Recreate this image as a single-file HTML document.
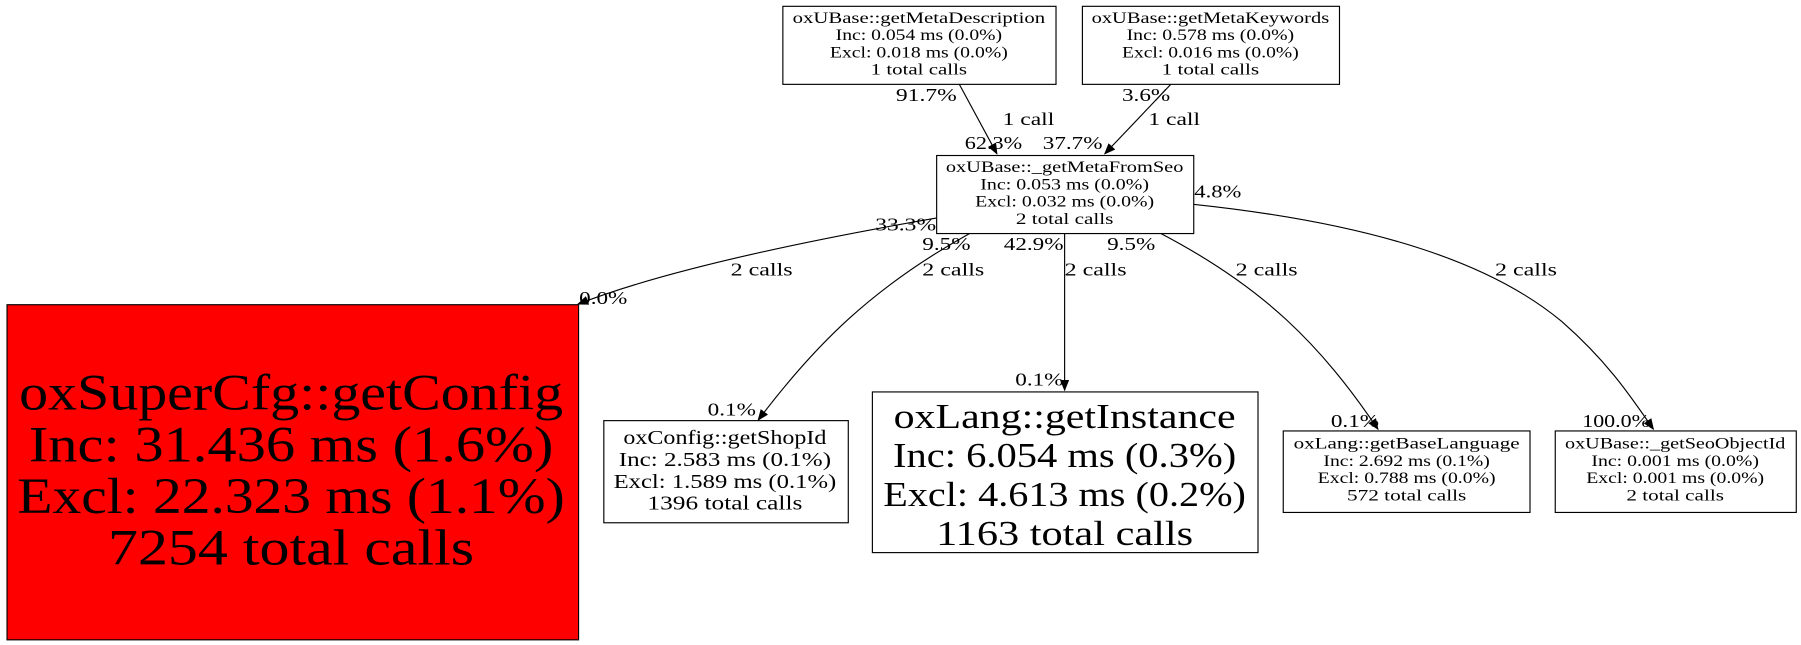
<!DOCTYPE html>
<html><head><meta charset="utf-8"><style>
html,body{margin:0;padding:0;background:#fff;}
svg{display:block;}
text{font-family:"Liberation Serif",serif;fill:#000;}
</style></head><body>
<svg width="1801" height="645" viewBox="0 0 1568 562" xmlns="http://www.w3.org/2000/svg">
<defs><marker id="a" markerWidth="10" markerHeight="8" refX="9" refY="4" orient="auto" markerUnits="userSpaceOnUse"><path d="M0,0 L10,4 L0,8 z" fill="#000"/></marker></defs>
<g fill="none" stroke="#000" stroke-width="1">
<path d="M835,73 L868,134" marker-end="url(#a)"/>
<path d="M1020,73 L962,134" marker-end="url(#a)"/>
<path d="M815,190 C700,210 580,235 503,265" marker-end="url(#a)"/>
<path d="M845,203 C760,250 710,300 660,366" marker-end="url(#a)"/>
<path d="M927,203 L927,340" marker-end="url(#a)"/>
<path d="M1010,203 C1100,250 1150,300 1200,374" marker-end="url(#a)"/>
<path d="M1039,178 C1200,195 1300,230 1360,280 C1400,315 1420,345 1440,374" marker-end="url(#a)"/>
</g>
<g stroke="#000" stroke-width="1" fill="#fff">
<rect x="681.5" y="5.5" width="238" height="68"/>
<rect x="942.5" y="5.5" width="224" height="68"/>
<rect x="815.5" y="135.5" width="224" height="68"/>
<rect x="5.5" y="265.5" width="498" height="292" fill="#ff0000"/>
<rect x="525.5" y="366.5" width="213" height="89"/>
<rect x="759.5" y="341.5" width="336" height="140"/>
<rect x="1117.5" y="375.5" width="215" height="71"/>
<rect x="1354.5" y="375.5" width="210" height="71"/>
</g>
<g font-size="14" text-anchor="middle" lengthAdjust="spacingAndGlyphs">
<text x="800" y="20" textLength="220" lengthAdjust="spacingAndGlyphs">oxUBase::getMetaDescription</text>
<text x="800" y="35" textLength="145" lengthAdjust="spacingAndGlyphs">Inc: 0.054 ms (0.0%)</text>
<text x="800" y="50" textLength="155" lengthAdjust="spacingAndGlyphs">Excl: 0.018 ms (0.0%)</text>
<text x="800" y="65" textLength="84" lengthAdjust="spacingAndGlyphs">1 total calls</text>
<text x="1054" y="20" textLength="207" lengthAdjust="spacingAndGlyphs">oxUBase::getMetaKeywords</text>
<text x="1054" y="35" textLength="146" lengthAdjust="spacingAndGlyphs">Inc: 0.578 ms (0.0%)</text>
<text x="1054" y="50" textLength="154" lengthAdjust="spacingAndGlyphs">Excl: 0.016 ms (0.0%)</text>
<text x="1054" y="65" textLength="85" lengthAdjust="spacingAndGlyphs">1 total calls</text>
<text x="927" y="150" textLength="207" lengthAdjust="spacingAndGlyphs">oxUBase::_getMetaFromSeo</text>
<text x="927" y="165" textLength="147" lengthAdjust="spacingAndGlyphs">Inc: 0.053 ms (0.0%)</text>
<text x="927" y="180" textLength="156" lengthAdjust="spacingAndGlyphs">Excl: 0.032 ms (0.0%)</text>
<text x="927" y="195" textLength="85" lengthAdjust="spacingAndGlyphs">2 total calls</text>
<text x="1225" y="391" textLength="197" lengthAdjust="spacingAndGlyphs">oxLang::getBaseLanguage</text>
<text x="1225" y="406" textLength="145" lengthAdjust="spacingAndGlyphs">Inc: 2.692 ms (0.1%)</text>
<text x="1225" y="421" textLength="155" lengthAdjust="spacingAndGlyphs">Excl: 0.788 ms (0.0%)</text>
<text x="1225" y="436" textLength="104" lengthAdjust="spacingAndGlyphs">572 total calls</text>
<text x="1459" y="391" textLength="192" lengthAdjust="spacingAndGlyphs">oxUBase::_getSeoObjectId</text>
<text x="1459" y="406" textLength="146" lengthAdjust="spacingAndGlyphs">Inc: 0.001 ms (0.0%)</text>
<text x="1459" y="421" textLength="155" lengthAdjust="spacingAndGlyphs">Excl: 0.001 ms (0.0%)</text>
<text x="1459" y="436" textLength="85" lengthAdjust="spacingAndGlyphs">2 total calls</text>
</g>
<g font-size="17" text-anchor="middle">
<text x="631" y="387" textLength="177" lengthAdjust="spacingAndGlyphs">oxConfig::getShopId</text>
<text x="631" y="406" textLength="185" lengthAdjust="spacingAndGlyphs">Inc: 2.583 ms (0.1%)</text>
<text x="631" y="425" textLength="194" lengthAdjust="spacingAndGlyphs">Excl: 1.589 ms (0.1%)</text>
<text x="631" y="444" textLength="135" lengthAdjust="spacingAndGlyphs">1396 total calls</text>
</g>
<g font-size="30" text-anchor="middle">
<text x="927" y="373" textLength="298" lengthAdjust="spacingAndGlyphs">oxLang::getInstance</text>
<text x="927" y="407" textLength="299" lengthAdjust="spacingAndGlyphs">Inc: 6.054 ms (0.3%)</text>
<text x="927" y="441" textLength="316" lengthAdjust="spacingAndGlyphs">Excl: 4.613 ms (0.2%)</text>
<text x="927" y="475" textLength="224" lengthAdjust="spacingAndGlyphs">1163 total calls</text>
</g>
<g font-size="44" text-anchor="middle">
<text x="253" y="357" textLength="474" lengthAdjust="spacingAndGlyphs">oxSuperCfg::getConfig</text>
<text x="253" y="402" textLength="457" lengthAdjust="spacingAndGlyphs">Inc: 31.436 ms (1.6%)</text>
<text x="253" y="447" textLength="477" lengthAdjust="spacingAndGlyphs">Excl: 22.323 ms (1.1%)</text>
<text x="253" y="492" textLength="319" lengthAdjust="spacingAndGlyphs">7254 total calls</text>
</g>
<g font-size="16">
<text x="780" y="88" textLength="53" lengthAdjust="spacingAndGlyphs">91.7%</text>
<text x="873" y="109" textLength="45" lengthAdjust="spacingAndGlyphs">1 call</text>
<text x="840" y="130" textLength="50" lengthAdjust="spacingAndGlyphs">62.3%</text>
<text x="977" y="88" textLength="42" lengthAdjust="spacingAndGlyphs">3.6%</text>
<text x="1000" y="109" textLength="45" lengthAdjust="spacingAndGlyphs">1 call</text>
<text x="908" y="130" textLength="52" lengthAdjust="spacingAndGlyphs">37.7%</text>
<text x="762" y="201" textLength="53" lengthAdjust="spacingAndGlyphs">33.3%</text>
<text x="636" y="240" textLength="54" lengthAdjust="spacingAndGlyphs">2 calls</text>
<text x="504" y="265" textLength="42" lengthAdjust="spacingAndGlyphs">0.0%</text>
<text x="803" y="218" textLength="42" lengthAdjust="spacingAndGlyphs">9.5%</text>
<text x="803" y="240" textLength="54" lengthAdjust="spacingAndGlyphs">2 calls</text>
<text x="616" y="362" textLength="42" lengthAdjust="spacingAndGlyphs">0.1%</text>
<text x="874" y="218" textLength="52" lengthAdjust="spacingAndGlyphs">42.9%</text>
<text x="927" y="240" textLength="54" lengthAdjust="spacingAndGlyphs">2 calls</text>
<text x="884" y="336" textLength="42" lengthAdjust="spacingAndGlyphs">0.1%</text>
<text x="964" y="218" textLength="42" lengthAdjust="spacingAndGlyphs">9.5%</text>
<text x="1076" y="240" textLength="54" lengthAdjust="spacingAndGlyphs">2 calls</text>
<text x="1159" y="372" textLength="42" lengthAdjust="spacingAndGlyphs">0.1%</text>
<text x="1040" y="172" textLength="41" lengthAdjust="spacingAndGlyphs">4.8%</text>
<text x="1302" y="240" textLength="54" lengthAdjust="spacingAndGlyphs">2 calls</text>
<text x="1378" y="372" textLength="59" lengthAdjust="spacingAndGlyphs">100.0%</text>
</g>
</svg>
</body></html>
